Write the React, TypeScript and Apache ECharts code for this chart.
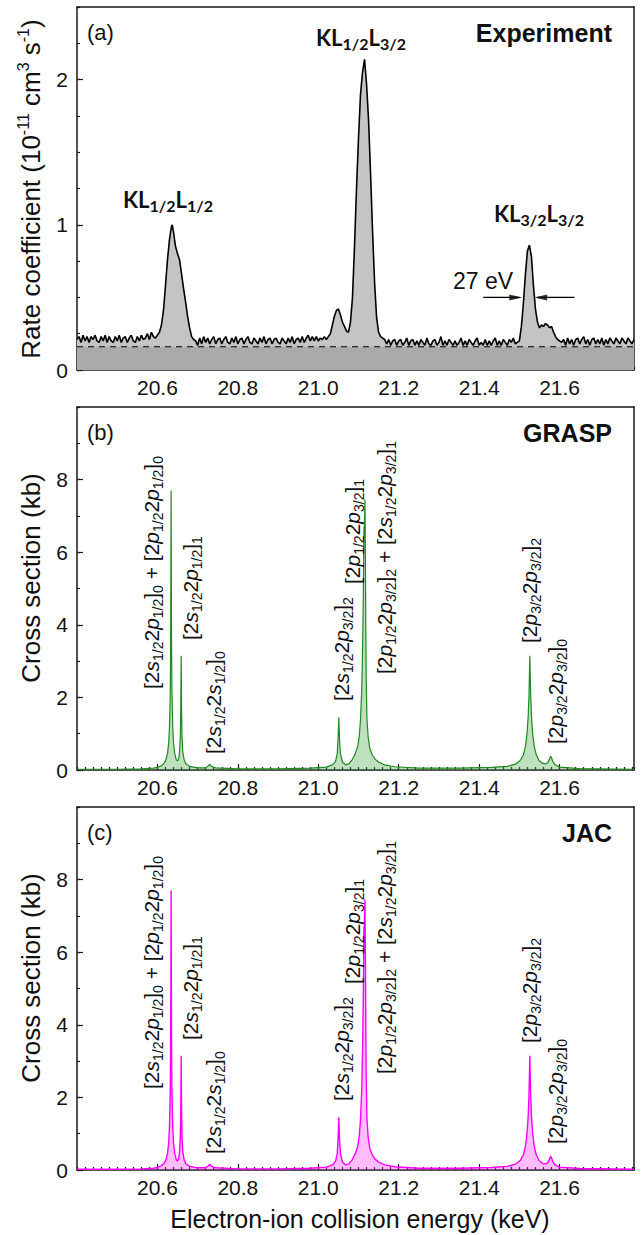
import React, { useEffect, useRef } from "react";
import * as echarts from "echarts";

const FONT = "'Liberation Sans', Arial, sans-serif";
const KFONT = "Lato, 'Liberation Sans', sans-serif";

// energy axis (keV)
const X_MIN = 20.4;
const X_MAX = 21.785;
const X_MAJOR = 0.2;
const X_MINOR = 0.02;

// panel y-axes
const A_Y_MAX = 2.5;
const A_Y_MAJOR = 1;
const A_Y_MINOR = 0.25;
const BC_Y_MAX = 10;
const BC_Y_MAJOR = 2;
const BC_Y_MINOR = 1;

// dashed background level in panel (a)
const BACKGROUND_LEVEL = 0.16;

// FWHM arrows (keV, rate coefficient): shafts and arrow heads [x, y, rotation]
const fwhmShaftLeft = [[21.41, 0.5], [21.50, 0.5]];
const fwhmShaftRight = [[21.637, 0.5], [21.545, 0.5]];
const fwhmHeads: [number, number, number][] = [[21.491, 0.5, -90], [21.553, 0.5, 90]];

// (a) experiment: rate coefficient vs energy
const expData: [number, number][] = [
  [20.400, 0.21], [20.405, 0.23], [20.410, 0.19], [20.415, 0.24], [20.420, 0.20], [20.425, 0.23], [20.430, 0.19], [20.435, 0.23], [20.440, 0.21], [20.445, 0.24],
  [20.450, 0.20], [20.455, 0.19], [20.460, 0.23], [20.465, 0.20], [20.470, 0.24], [20.475, 0.19], [20.480, 0.23], [20.485, 0.20], [20.490, 0.19], [20.495, 0.23],
  [20.500, 0.20], [20.505, 0.24], [20.510, 0.19], [20.515, 0.22], [20.520, 0.23], [20.525, 0.19], [20.530, 0.22], [20.535, 0.24], [20.540, 0.20], [20.545, 0.19],
  [20.550, 0.23], [20.555, 0.20], [20.560, 0.24], [20.565, 0.21], [20.570, 0.22], [20.575, 0.25], [20.580, 0.21], [20.585, 0.26], [20.590, 0.23],
  [20.595, 0.22], [20.600, 0.24], [20.605, 0.26], [20.610, 0.31], [20.615, 0.41], [20.620, 0.58], [20.625, 0.76], [20.630, 0.90], [20.635, 0.99], [20.637, 1.00],
  [20.640, 0.95], [20.645, 0.85], [20.650, 0.80], [20.655, 0.76], [20.660, 0.66], [20.665, 0.56], [20.670, 0.47], [20.675, 0.37], [20.680, 0.29], [20.685, 0.23],
  [20.690, 0.21], [20.695, 0.20], [20.700, 0.17], [20.705, 0.22], [20.710, 0.18], [20.715, 0.23], [20.720, 0.19], [20.725, 0.22], [20.730, 0.18], [20.735, 0.21],
  [20.740, 0.23], [20.745, 0.18], [20.750, 0.21], [20.755, 0.22], [20.760, 0.18], [20.765, 0.21], [20.770, 0.23], [20.775, 0.19], [20.780, 0.18], [20.785, 0.22],
  [20.790, 0.19], [20.795, 0.23], [20.800, 0.18], [20.805, 0.21], [20.810, 0.22], [20.815, 0.18], [20.820, 0.21], [20.825, 0.23], [20.830, 0.19], [20.835, 0.18],
  [20.840, 0.22], [20.845, 0.20], [20.850, 0.18], [20.855, 0.22], [20.860, 0.19], [20.865, 0.23], [20.870, 0.18], [20.875, 0.21], [20.880, 0.22], [20.885, 0.18],
  [20.890, 0.21], [20.895, 0.22], [20.900, 0.19], [20.905, 0.18], [20.910, 0.22], [20.915, 0.20], [20.920, 0.18], [20.925, 0.22], [20.930, 0.19], [20.935, 0.23],
  [20.940, 0.18], [20.945, 0.21], [20.950, 0.22], [20.955, 0.19], [20.960, 0.23], [20.965, 0.19], [20.970, 0.22], [20.975, 0.24], [20.980, 0.20], [20.985, 0.23],
  [20.990, 0.20], [20.995, 0.23], [21.000, 0.20], [21.005, 0.22], [21.010, 0.21], [21.015, 0.23], [21.020, 0.21], [21.025, 0.23], [21.030, 0.25], [21.035, 0.31],
  [21.040, 0.37], [21.045, 0.41], [21.050, 0.42], [21.055, 0.38], [21.060, 0.33], [21.065, 0.30], [21.070, 0.27], [21.075, 0.26], [21.080, 0.33], [21.085, 0.50],
  [21.090, 0.85], [21.095, 1.25], [21.100, 1.60], [21.105, 1.90], [21.110, 2.05], [21.115, 2.14], [21.120, 1.97], [21.125, 1.72], [21.130, 1.35], [21.135, 0.95],
  [21.140, 0.60], [21.145, 0.36], [21.150, 0.26], [21.155, 0.23], [21.160, 0.22], [21.165, 0.21], [21.170, 0.18], [21.175, 0.21], [21.180, 0.17], [21.185, 0.20],
  [21.190, 0.21], [21.195, 0.17], [21.200, 0.20], [21.205, 0.21], [21.210, 0.17], [21.215, 0.19], [21.220, 0.22], [21.225, 0.17], [21.230, 0.20], [21.235, 0.21],
  [21.240, 0.17], [21.245, 0.20], [21.250, 0.17], [21.255, 0.21], [21.260, 0.19], [21.265, 0.17], [21.270, 0.22], [21.275, 0.18], [21.280, 0.17], [21.285, 0.20],
  [21.290, 0.21], [21.295, 0.17], [21.300, 0.19], [21.305, 0.23], [21.310, 0.17], [21.315, 0.20], [21.320, 0.17], [21.325, 0.21], [21.330, 0.19], [21.335, 0.17],
  [21.340, 0.20], [21.345, 0.17], [21.350, 0.19], [21.355, 0.22], [21.360, 0.17], [21.365, 0.20], [21.370, 0.17], [21.375, 0.21], [21.380, 0.19], [21.385, 0.17],
  [21.390, 0.20], [21.395, 0.22], [21.400, 0.17], [21.405, 0.19], [21.410, 0.17], [21.415, 0.21], [21.420, 0.17], [21.425, 0.20], [21.430, 0.17], [21.435, 0.20],
  [21.440, 0.22], [21.445, 0.17], [21.450, 0.20], [21.455, 0.17], [21.460, 0.21], [21.465, 0.19], [21.470, 0.17], [21.475, 0.21], [21.480, 0.19], [21.485, 0.22],
  [21.490, 0.18], [21.495, 0.19], [21.500, 0.20], [21.505, 0.30], [21.510, 0.46], [21.515, 0.66], [21.520, 0.82], [21.525, 0.86], [21.530, 0.78], [21.535, 0.58],
  [21.540, 0.42], [21.545, 0.33], [21.550, 0.29], [21.555, 0.31], [21.560, 0.30], [21.565, 0.32], [21.570, 0.31], [21.575, 0.29], [21.580, 0.30], [21.585, 0.26],
  [21.590, 0.23], [21.595, 0.21], [21.600, 0.20], [21.605, 0.19], [21.610, 0.21], [21.615, 0.17], [21.620, 0.22], [21.625, 0.18], [21.630, 0.21], [21.635, 0.17],
  [21.640, 0.21], [21.645, 0.22], [21.650, 0.18], [21.655, 0.21], [21.660, 0.23], [21.665, 0.18], [21.670, 0.21], [21.675, 0.17], [21.680, 0.21], [21.685, 0.22],
  [21.690, 0.18], [21.695, 0.21], [21.700, 0.18], [21.705, 0.22], [21.710, 0.17], [21.715, 0.21], [21.720, 0.18], [21.725, 0.22], [21.730, 0.20], [21.735, 0.18],
  [21.740, 0.22], [21.745, 0.20], [21.750, 0.18], [21.755, 0.22], [21.760, 0.20], [21.765, 0.18], [21.770, 0.22], [21.775, 0.20], [21.780, 0.18], [21.785, 0.21],
];

// (b) GRASP cross section (kb)
const graspData: [number, number][] = [
  [20.400, 0.02], [20.500, 0.02], [20.560, 0.03], [20.590, 0.05], [20.600, 0.07], [20.610, 0.12], [20.616, 0.18], [20.621, 0.28], [20.625, 0.45], [20.628, 0.75],
  [20.630, 1.20], [20.632, 2.20], [20.633, 3.80], [20.634, 7.70], [20.635, 3.80], [20.636, 2.20], [20.638, 1.20], [20.640, 0.75], [20.643, 0.45], [20.647, 0.28],
  [20.650, 0.25], [20.653, 0.32], [20.655, 0.50], [20.657, 0.95], [20.658, 1.70], [20.659, 3.15], [20.660, 1.70], [20.661, 0.95], [20.663, 0.50], [20.666, 0.30],
  [20.670, 0.18], [20.680, 0.10], [20.700, 0.06], [20.718, 0.06], [20.724, 0.09], [20.728, 0.13], [20.730, 0.16], [20.732, 0.13], [20.736, 0.09], [20.745, 0.06],
  [20.800, 0.03], [20.900, 0.03], [20.980, 0.05], [21.020, 0.08], [21.035, 0.14], [21.043, 0.24], [21.047, 0.45], [21.049, 0.80], [21.051, 1.45], [21.053, 0.80],
  [21.055, 0.45], [21.060, 0.22], [21.068, 0.14], [21.076, 0.17], [21.084, 0.28], [21.092, 0.45], [21.098, 0.65], [21.102, 0.95], [21.105, 1.40], [21.108, 2.20],
  [21.110, 3.30], [21.112, 4.80], [21.1135, 6.70], [21.1142, 6.40], [21.115, 7.00], [21.116, 7.45], [21.117, 6.00], [21.118, 4.20], [21.119, 2.60], [21.121, 1.40],
  [21.124, 0.90], [21.128, 0.60], [21.134, 0.42], [21.141, 0.30], [21.150, 0.22], [21.165, 0.14], [21.190, 0.09], [21.250, 0.05], [21.350, 0.05], [21.430, 0.07],
  [21.470, 0.10], [21.490, 0.16], [21.502, 0.26], [21.510, 0.42], [21.515, 0.65], [21.519, 1.00], [21.522, 1.50], [21.524, 2.10], [21.526, 3.15], [21.528, 2.10],
  [21.530, 1.50], [21.533, 1.00], [21.537, 0.65], [21.542, 0.42], [21.549, 0.26], [21.558, 0.18], [21.566, 0.17], [21.571, 0.21], [21.574, 0.28], [21.576, 0.34],
  [21.578, 0.38], [21.580, 0.33], [21.583, 0.24], [21.588, 0.15], [21.600, 0.08], [21.650, 0.04], [21.785, 0.02],
];

// (c) JAC cross section (kb)
const jacData: [number, number][] = [
  [20.400, 0.02], [20.500, 0.02], [20.560, 0.03], [20.590, 0.05], [20.600, 0.07], [20.610, 0.12], [20.616, 0.18], [20.621, 0.28], [20.625, 0.45], [20.628, 0.75],
  [20.630, 1.20], [20.632, 2.20], [20.633, 3.80], [20.634, 7.70], [20.635, 3.80], [20.636, 2.20], [20.638, 1.20], [20.640, 0.75], [20.643, 0.45], [20.647, 0.28],
  [20.650, 0.25], [20.653, 0.32], [20.655, 0.50], [20.657, 0.95], [20.658, 1.70], [20.659, 3.15], [20.660, 1.70], [20.661, 0.95], [20.663, 0.50], [20.666, 0.30],
  [20.670, 0.18], [20.680, 0.10], [20.700, 0.06], [20.718, 0.06], [20.724, 0.09], [20.728, 0.13], [20.730, 0.16], [20.732, 0.13], [20.736, 0.09], [20.745, 0.06],
  [20.800, 0.03], [20.900, 0.03], [20.980, 0.05], [21.020, 0.08], [21.035, 0.14], [21.043, 0.24], [21.047, 0.45], [21.049, 0.80], [21.051, 1.45], [21.053, 0.80],
  [21.055, 0.45], [21.060, 0.22], [21.068, 0.14], [21.076, 0.17], [21.084, 0.28], [21.092, 0.45], [21.098, 0.65], [21.102, 0.95], [21.105, 1.40], [21.108, 2.20],
  [21.110, 3.30], [21.112, 4.80], [21.1135, 6.70], [21.1142, 6.40], [21.115, 7.00], [21.116, 7.45], [21.117, 6.00], [21.118, 4.20], [21.119, 2.60], [21.121, 1.40],
  [21.124, 0.90], [21.128, 0.60], [21.134, 0.42], [21.141, 0.30], [21.150, 0.22], [21.165, 0.14], [21.190, 0.09], [21.250, 0.05], [21.350, 0.05], [21.430, 0.07],
  [21.470, 0.10], [21.490, 0.16], [21.502, 0.26], [21.510, 0.42], [21.515, 0.65], [21.519, 1.00], [21.522, 1.50], [21.524, 2.10], [21.526, 3.15], [21.528, 2.10],
  [21.530, 1.50], [21.533, 1.00], [21.537, 0.65], [21.542, 0.42], [21.549, 0.26], [21.558, 0.18], [21.566, 0.17], [21.571, 0.21], [21.574, 0.28], [21.576, 0.34],
  [21.578, 0.38], [21.580, 0.33], [21.583, 0.24], [21.588, 0.15], [21.600, 0.08], [21.650, 0.04], [21.785, 0.02],
];

// peak labels for theory panels (rich text)
const theoryLabels = [
  { text: "{n|[2}{i|s}{s|1/2}{n|2}{i|p}{s|1/2}{n|]}{s|0}{n|\u00a0+\u00a0[2}{i|p}{s|1/2}{n|2}{i|p}{s|1/2}{n|]}{s|0}", dx: 151, dy: 689 },
  { text: "{n|[2}{i|s}{s|1/2}{n|2}{i|p}{s|1/2}{n|]}{s|1}", dx: 190, dy: 640 },
  { text: "{n|[2}{i|s}{s|1/2}{n|2}{i|s}{s|1/2}{n|]}{s|0}", dx: 213, dy: 754 },
  { text: "{n|[2}{i|s}{s|1/2}{n|2}{i|p}{s|3/2}{n|]}{s|2}", dx: 341, dy: 701 },
  { text: "{n|[2}{i|p}{s|1/2}{n|2}{i|p}{s|3/2}{n|]}{s|1}", dx: 352, dy: 584 },
  { text: "{n|[2}{i|p}{s|1/2}{n|2}{i|p}{s|3/2}{n|]}{s|2}{n|\u00a0+\u00a0[2}{i|s}{s|1/2}{n|2}{i|p}{s|3/2}{n|]}{s|1}", dx: 384, dy: 674 },
  { text: "{n|[2}{i|p}{s|3/2}{n|2}{i|p}{s|3/2}{n|]}{s|2}", dx: 529, dy: 643 },
  { text: "{n|[2}{i|p}{s|3/2}{n|2}{i|p}{s|3/2}{n|]}{s|0}", dx: 555, dy: 744 },
];

const experimentLabels = [
  { text: "{b|KL}{sb|1/2}{b|L}{sb|1/2}", x: 168, y: 199 },
  { text: "{b|KL}{sb|1/2}{b|L}{sb|3/2}", x: 361, y: 37 },
  { text: "{b|KL}{sb|3/2}{b|L}{sb|3/2}", x: 539, y: 213 },
];

const GRID_LEFT = 77;
const GRID_W = 557;
const GRID_H = 363;
const GRID_TOPS = [7, 407, 807];

const INK = "#1a1a1a";

function axesFor(gi: number, yMax: number, yMajor: number, yMinor: number) {
  const line = { color: INK, width: 1.5 };
  const tickStyle = { color: INK, width: 1.2 };
  const xAxes = [
    {
      gridIndex: gi, type: "value", min: X_MIN, max: X_MAX, interval: X_MAJOR, position: "bottom",
      axisLine: { show: true, onZero: false, lineStyle: line },
      axisTick: { show: true, inside: true, length: 6, lineStyle: tickStyle },
      axisLabel: {
        show: true, showMinLabel: false, showMaxLabel: false, fontSize: 21, fontFamily: FONT, color: "#111", margin: 7,
        formatter: (v: number) => v.toFixed(1),
      },
      splitLine: { show: false },
    },
    {
      gridIndex: gi, type: "value", min: X_MIN, max: X_MAX, interval: X_MINOR, position: "bottom",
      axisLine: { show: false, onZero: false },
      axisTick: { show: true, inside: true, length: 3, lineStyle: tickStyle },
      axisLabel: { show: false }, splitLine: { show: false },
    },
    {
      gridIndex: gi, type: "value", min: 0, max: 1, position: "top",
      axisLine: { show: true, onZero: false, lineStyle: line },
      axisTick: { show: false }, axisLabel: { show: false }, splitLine: { show: false },
    },
  ];
  const yAxes = [
    {
      gridIndex: gi, type: "value", min: 0, max: yMax, interval: yMajor, position: "left",
      axisLine: { show: true, onZero: false, lineStyle: line },
      axisTick: { show: true, inside: true, length: 6, lineStyle: tickStyle },
      axisLabel: { show: true, showMaxLabel: false, fontSize: 21, fontFamily: FONT, color: "#111", margin: 9 },
      splitLine: { show: false },
    },
    {
      gridIndex: gi, type: "value", min: 0, max: yMax, interval: yMinor, position: "left",
      axisLine: { show: false, onZero: false },
      axisTick: { show: true, inside: true, length: 3, lineStyle: tickStyle },
      axisLabel: { show: false }, splitLine: { show: false },
    },
    {
      gridIndex: gi, type: "value", min: 0, max: 1, position: "right",
      axisLine: { show: true, onZero: false, lineStyle: line },
      axisTick: { show: false }, axisLabel: { show: false }, splitLine: { show: false },
    },
  ];
  return { xAxes, yAxes };
}

function buildOption() {
  const a = axesFor(0, A_Y_MAX, A_Y_MAJOR, A_Y_MINOR);
  const b = axesFor(1, BC_Y_MAX, BC_Y_MAJOR, BC_Y_MINOR);
  const c = axesFor(2, BC_Y_MAX, BC_Y_MAJOR, BC_Y_MINOR);

  const richLabel = {
    n: { fontSize: 21, fontFamily: FONT, lineHeight: 27, fill: "#111" },
    i: { fontSize: 21, fontFamily: FONT, fontStyle: "italic", lineHeight: 27, fill: "#111" },
    s: { fontSize: 14, fontFamily: FONT, lineHeight: 14, verticalAlign: "bottom", fill: "#111" },
  };
  const richKL = {
    b: { fontSize: 22, fontFamily: KFONT, fontWeight: "bold", lineHeight: 29, fill: "#111" },
    sb: { fontSize: 16, fontFamily: KFONT, fontWeight: "bold", lineHeight: 16, verticalAlign: "bottom", fill: "#111" },
  };
  const richTitle = {
    t: { fontSize: 26, fontFamily: FONT, lineHeight: 32, fill: "#111" },
    p: { fontSize: 16, fontFamily: FONT, lineHeight: 16, verticalAlign: "top", fill: "#111" },
  };

  const graphics: any[] = [];
  const plainText = (text: string, x: number, y: number, opts: any = {}) => ({
    type: "text", x, y, z: 100, silent: true,
    style: {
      text, fill: "#111", fontFamily: FONT, fontSize: 22,
      align: "left", verticalAlign: "middle", ...opts,
    },
  });

  graphics.push(plainText("(a)", 87, 32));
  graphics.push(plainText("(b)", 87, 432));
  graphics.push(plainText("(c)", 87, 832));
  graphics.push(plainText("Experiment", 612, 33, { align: "right", fontWeight: "bold", fontSize: 25 }));
  graphics.push(plainText("GRASP", 612, 433, { align: "right", fontWeight: "bold", fontSize: 25 }));
  graphics.push(plainText("JAC", 612, 833, { align: "right", fontWeight: "bold", fontSize: 25 }));
  graphics.push(plainText("27 eV", 483, 281, { align: "center", fontSize: 23 }));
  graphics.push(plainText("Electron-ion collision energy (keV)", 360, 1219, { align: "center", fontSize: 25, lineHeight: 26 }));

  // y titles
  graphics.push({
    type: "text", x: 31, y: 189, rotation: Math.PI / 2, z: 100, silent: true,
    style: {
      text: "{t|Rate coefficient (10}{p|-11}{t|\u00a0cm}{p|3}{t|\u00a0s}{p|-1}{t|)}",
      rich: richTitle, align: "center", verticalAlign: "middle",
    },
  });
  [578, 978].forEach((yy) =>
    graphics.push({
      type: "text", x: 31, y: yy, rotation: Math.PI / 2, z: 100, silent: true,
      style: { text: "{t|Cross section (kb)}", rich: richTitle, align: "center", verticalAlign: "middle" },
    })
  );

  experimentLabels.forEach((l) =>
    graphics.push({
      type: "text", x: l.x, y: l.y, z: 100, silent: true,
      style: { text: l.text, rich: richKL, align: "center", verticalAlign: "middle" },
    })
  );

  [0, 400].forEach((off) =>
    theoryLabels.forEach((l) =>
      graphics.push({
        type: "text", x: l.dx, y: l.dy + off, rotation: Math.PI / 2, z: 100, silent: true,
        style: { text: l.text, rich: richLabel, align: "left", verticalAlign: "middle" },
      })
    )
  );

  return {
    animation: false,
    backgroundColor: "#ffffff",
    grid: GRID_TOPS.map((t) => ({ left: GRID_LEFT, top: t, width: GRID_W, height: GRID_H, containLabel: false })),
    xAxis: [...a.xAxes, ...b.xAxes, ...c.xAxes],
    yAxis: [...a.yAxes, ...b.yAxes, ...c.yAxes],
    graphic: graphics,
    series: [
      {
        type: "line", xAxisIndex: 0, yAxisIndex: 0, data: expData, showSymbol: false, symbol: "none",
        lineStyle: { color: "#000", width: 1.6 }, areaStyle: { color: "#c4c4c4", opacity: 1 }, z: 2,
      },
      {
        type: "line", xAxisIndex: 0, yAxisIndex: 0,
        data: [[X_MIN, BACKGROUND_LEVEL], [X_MAX, BACKGROUND_LEVEL]],
        showSymbol: false, symbol: "none",
        lineStyle: { color: "#000", width: 1.2, type: [6, 5] }, areaStyle: { color: "#aaaaaa", opacity: 1 }, z: 3,
      },
      {
        type: "line", xAxisIndex: 0, yAxisIndex: 0, data: fwhmShaftLeft, showSymbol: false, symbol: "none",
        lineStyle: { color: "#000", width: 1.1 }, z: 5, silent: true,
      },
      {
        type: "line", xAxisIndex: 0, yAxisIndex: 0, data: fwhmShaftRight, showSymbol: false, symbol: "none",
        lineStyle: { color: "#000", width: 1.1 }, z: 5, silent: true,
      },
      {
        type: "scatter", xAxisIndex: 0, yAxisIndex: 0, symbol: "triangle", symbolSize: [6, 13], z: 6, silent: true,
        itemStyle: { color: "#000" },
        data: fwhmHeads.map((h) => ({ value: [h[0], h[1]], symbolRotate: h[2] })),
      },
      {
        type: "line", xAxisIndex: 3, yAxisIndex: 3, data: graspData, showSymbol: false, symbol: "none",
        lineStyle: { color: "#1f8a1f", width: 1.2 }, areaStyle: { color: "rgba(70,165,70,0.5)" },
      },
      {
        type: "line", xAxisIndex: 6, yAxisIndex: 6, data: jacData, showSymbol: false, symbol: "none",
        lineStyle: { color: "#ff00ff", width: 1.4 }, areaStyle: { color: "rgba(255,40,255,0.45)" },
      },
    ],
  };
}

export default function App() {
  const ref = useRef<HTMLDivElement>(null);
  useEffect(() => {
    if (!ref.current) return;
    const chart = echarts.init(ref.current, null, { renderer: "svg" });
    chart.setOption(buildOption() as any);
    return () => chart.dispose();
  }, []);
  return (
    <div
      ref={ref}
      style={{ position: "absolute", left: 0, top: 0, width: 641, height: 1235, background: "#fff" }}
    />
  );
}
